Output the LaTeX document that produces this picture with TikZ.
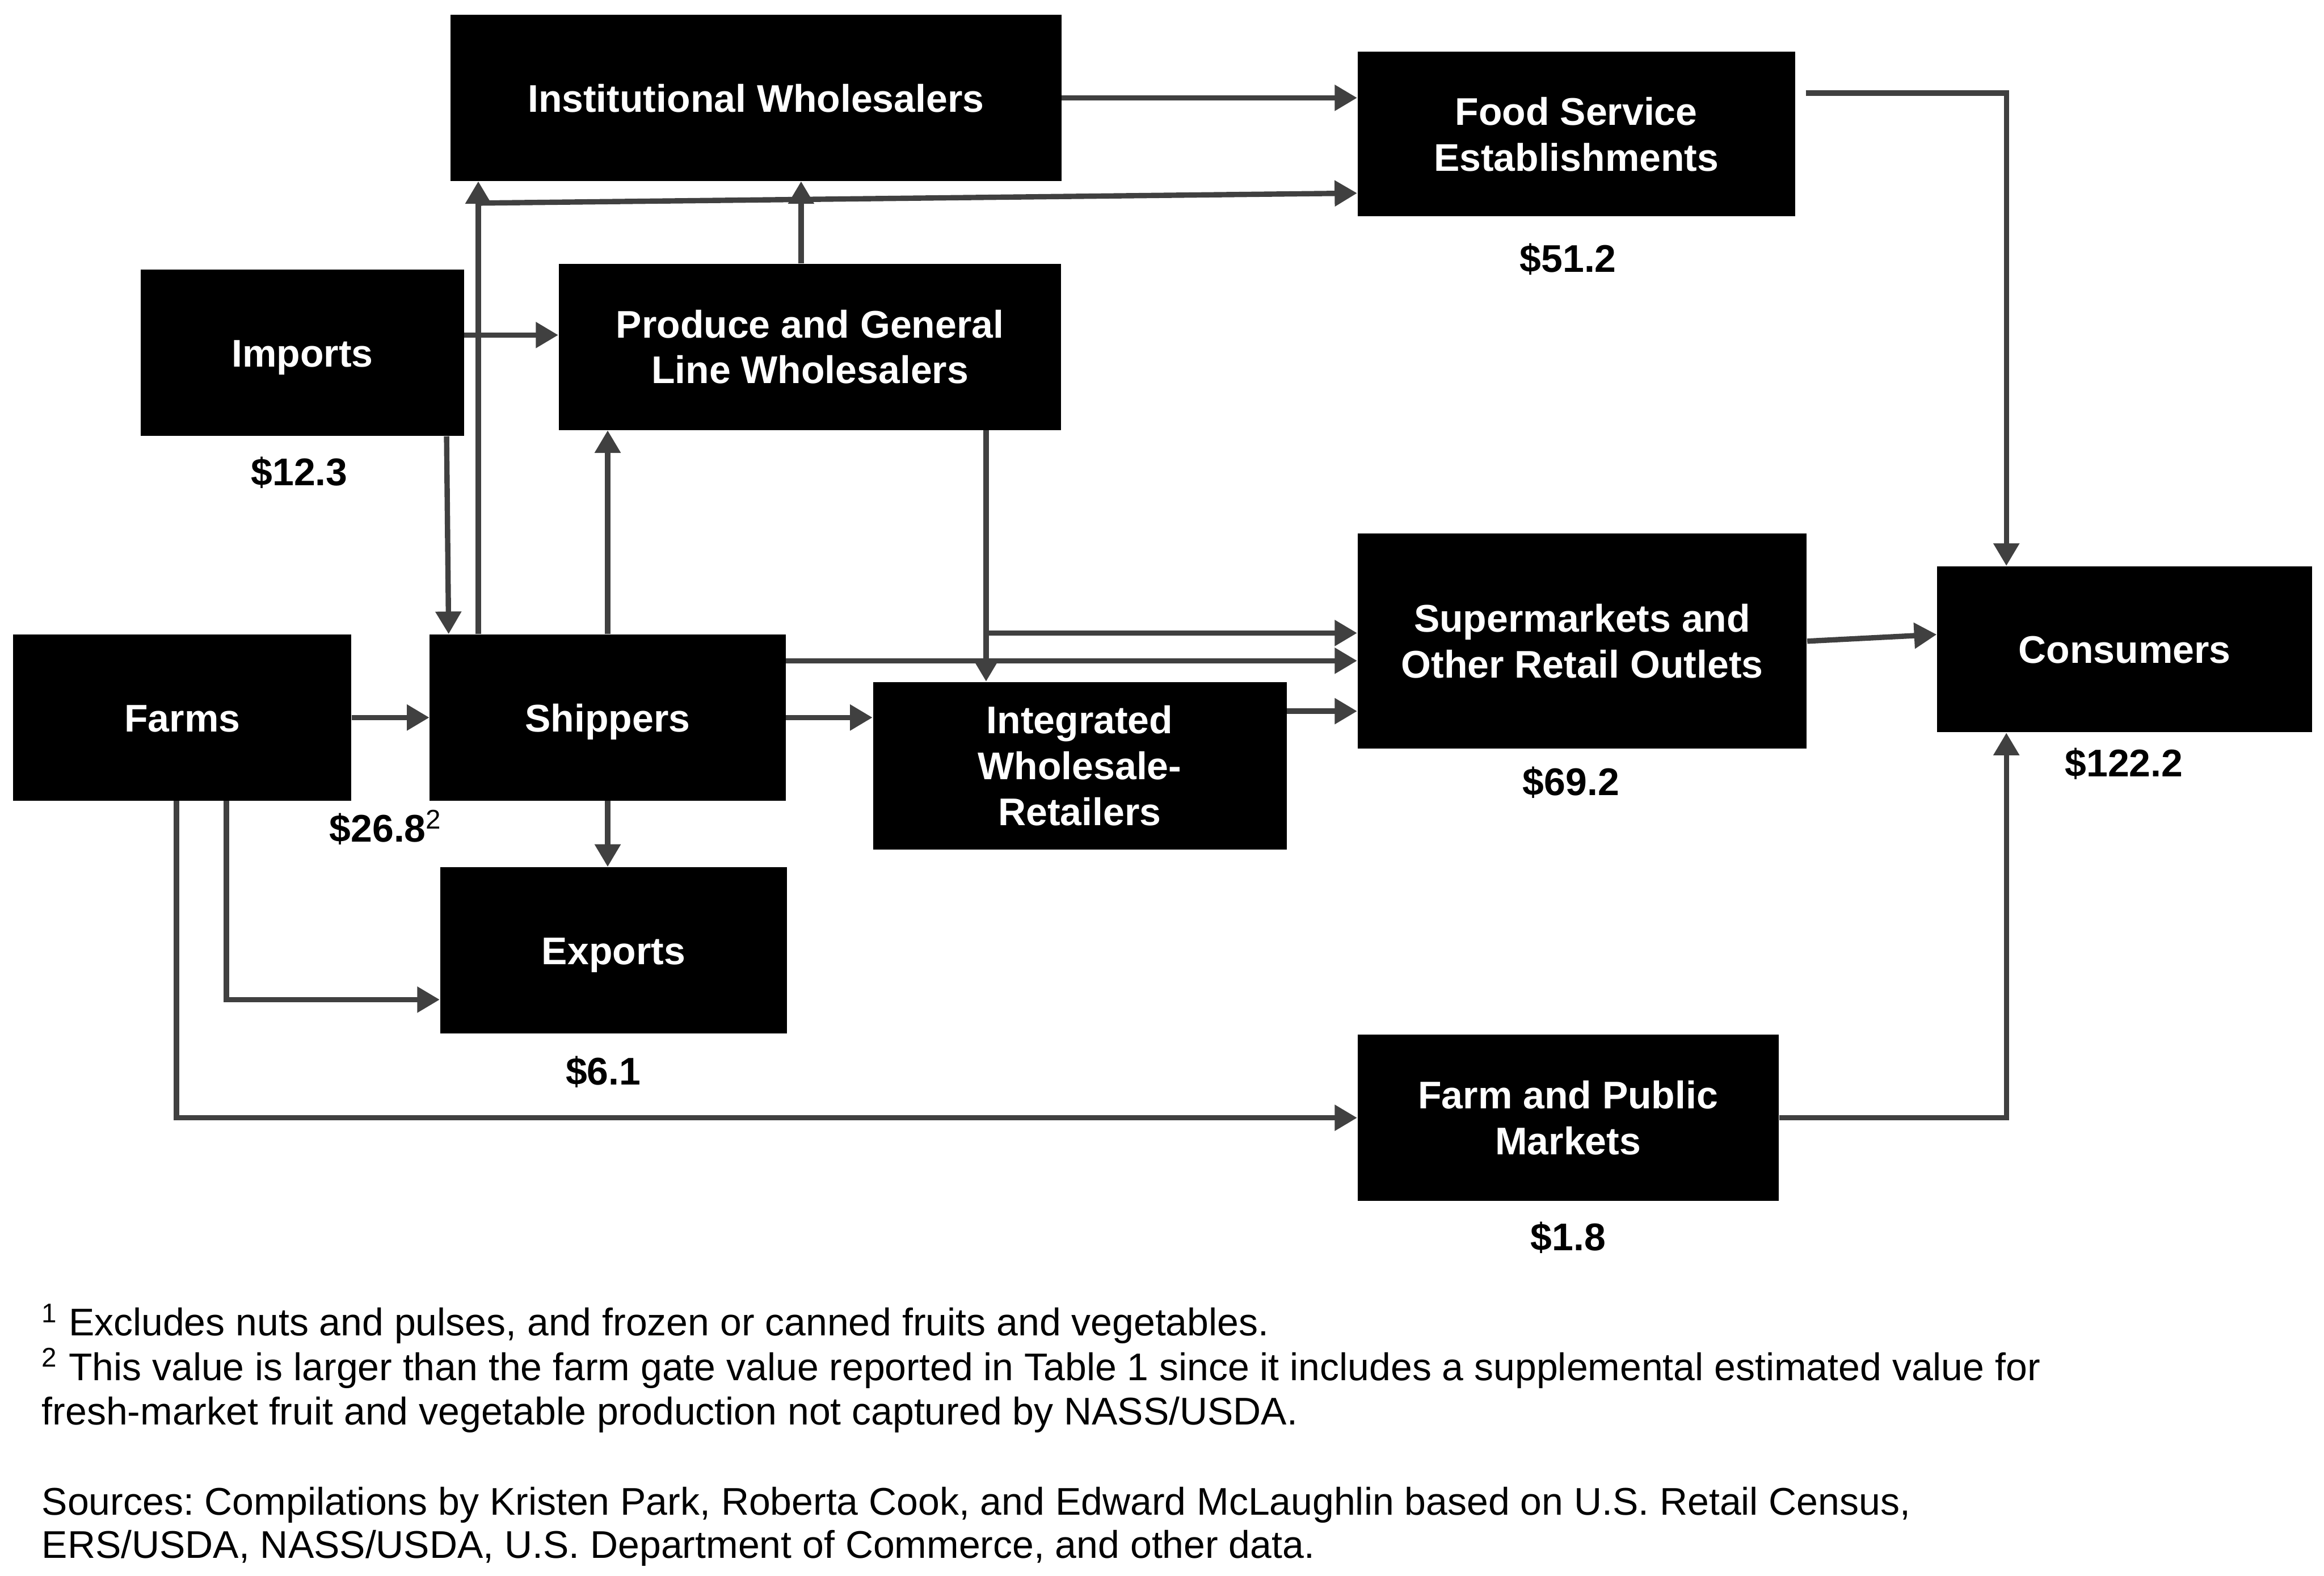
\documentclass[tikz,border=0pt]{standalone}
\usepackage{fontspec}
\setmainfont{Liberation Sans}
\usepackage{xcolor}
\usepackage{tikz}
\usetikzlibrary{arrows.meta, positioning, calc}
\definecolor{flowgray}{HTML}{404040}
\tikzstyle{chainbox} = [rectangle, fill=black, text=white, align=center, inner sep=0pt,
  font=\bfseries\fontsize{18.5}{22}\selectfont]
\tikzstyle{oneline} = [text height=13.5pt, text depth=0pt]
\tikzstyle{valtext} = [inner sep=0pt, font=\bfseries\fontsize{18.5}{22}\selectfont]
\tikzstyle{notetext} = [inner sep=0pt, anchor=base west, font=\fontsize{18.5}{22}\selectfont]
\tikzstyle{flowarrow} = [draw=flowgray, line width=0.09cm, -{Triangle[length=0.38cm, width=0.42cm]}]

\begin{document}
\frenchspacing
\begin{tikzpicture}[x=0.025cm, y=-0.025cm]
  \useasboundingbox (0,0) rectangle (1568,1063);

  \node (inst) [chainbox, oneline, minimum width=10.3cm, minimum height=2.8cm] at (510,66) {Institutional Wholesalers};
  \node (food) [chainbox, minimum width=7.375cm, minimum height=2.775cm] at (1063.5,90.5) {Food Service\\Establishments};
  \node (imp)  [chainbox, oneline, minimum width=5.45cm, minimum height=2.8cm] at (204,238) {Imports};
  \node (prod) [chainbox, minimum width=8.475cm, minimum height=2.8cm] at (546.5,234) {Produce and General\\Line Wholesalers};
  \node (super)[chainbox, minimum width=7.575cm, minimum height=3.625cm] at (1067.5,432.5) {Supermarkets and\\Other Retail Outlets};
  \node (cons) [chainbox, oneline, minimum width=6.325cm, minimum height=2.8cm] at (1433.5,438) {Consumers};
  \node (farms)[chainbox, oneline, minimum width=5.7cm, minimum height=2.8cm] at (123,484) {Farms};
  \node (ship) [chainbox, oneline, minimum width=6cm, minimum height=2.8cm] at (410,484) {Shippers};
  \node (integ)[chainbox, minimum width=6.975cm, minimum height=2.825cm] at (728.5,516.5) {Integrated\\Wholesale-\\Retailers};
  \node (exp)  [chainbox, oneline, minimum width=5.85cm, minimum height=2.8cm] at (414,641) {Exports};
  \node (fpm)  [chainbox, minimum width=7.1cm, minimum height=2.8cm] at (1058,754) {Farm and Public\\Markets};

  \node (vfood) [valtext] at (1058,175) {\$51.2};
  \node (vimp)  [valtext] at (202,319) {\$12.3};
  \node (vsuper)[valtext] at (1060,528) {\$69.2};
  \node (vcons) [valtext] at (1433,515) {\$122.2};
  \node (vship) [valtext, anchor=base west] at (222,568) {\$26.8\textsuperscript{\mdseries 2}};
  \node (vexp)  [valtext] at (407,723) {\$6.1};
  \node (vfpm)  [valtext] at (1058,835) {\$1.8};

  \coordinate (sv) at ([xshift=0.825cm]ship.north west);
  \coordinate (sj) at (323,137);
  \coordinate (pv) at ([xshift=-1.275cm]prod.south east);
  \coordinate (pj) at (665,427);

  \draw[flowarrow] (inst.east) -- (inst.east -| food.west);
  \draw[flowarrow] (sv) -- (sv |- inst.south);
  \draw[flowarrow] (sj) -- ([yshift=0.4cm]food.south west);
  \draw[flowarrow] ([xshift=-0.15cm]prod.north) -- ([xshift=-0.15cm]prod.north |- inst.south);
  \draw[flowarrow] ([yshift=0.3cm]imp.east) -- ([yshift=0.3cm]imp.east -| prod.west);
  \draw[flowarrow] ([xshift=-0.3cm]imp.south east) -- ([xshift=0.325cm]ship.north west);
  \draw[flowarrow] (ship.north) -- (ship.north |- prod.south);
  \draw[flowarrow] (pv) -- (pv |- integ.north);
  \draw[flowarrow] (pj) -- (pj -| super.west);
  \draw[flowarrow] ([yshift=-0.45cm]ship.north east) -- ([yshift=-0.45cm]ship.north east -| super.west);
  \draw[flowarrow] (ship.east) -- (ship.east -| integ.west);
  \draw[flowarrow] ([yshift=-0.5cm]integ.north east) -- ([yshift=-0.5cm]integ.north east -| super.west);
  \draw[flowarrow] (farms.east) -- (ship.west);
  \draw[flowarrow] (ship.south) -- (ship.south |- exp.north);
  \draw[flowarrow] ([xshift=3.6cm]farms.south west) |- ([yshift=0.575cm]exp.south west);
  \draw[flowarrow] ([xshift=-0.1cm]farms.south) |- (fpm.west);
  \draw[flowarrow] ([xshift=0.175cm,yshift=-0.7cm]food.north east) -| ([xshift=1.175cm]cons.north west);
  \draw[flowarrow] (super.east) -- ([yshift=0.25cm]cons.west);
  \draw[flowarrow] (fpm.east) -| ([xshift=1.175cm]cons.south west);

  \node (note1) [notetext] at (28,901) {\textsuperscript{1} Excludes nuts and pulses, and frozen or canned fruits and vegetables.};
  \node (note2) [notetext] at (28,931) {\textsuperscript{2} This value is larger than the farm gate value reported in Table 1 since it includes a supplemental estimated value for};
  \node (note3) [notetext] at (28,961) {fresh-market fruit and vegetable production not captured by NASS/USDA.};
  \node (src1)  [notetext] at (28,1022) {Sources: Compilations by Kristen Park, Roberta Cook, and Edward McLaughlin based on U.S. Retail Census,};
  \node (src2)  [notetext] at (28,1051) {ERS/USDA, NASS/USDA, U.S. Department of Commerce, and other data.};
\end{tikzpicture}
\end{document}
